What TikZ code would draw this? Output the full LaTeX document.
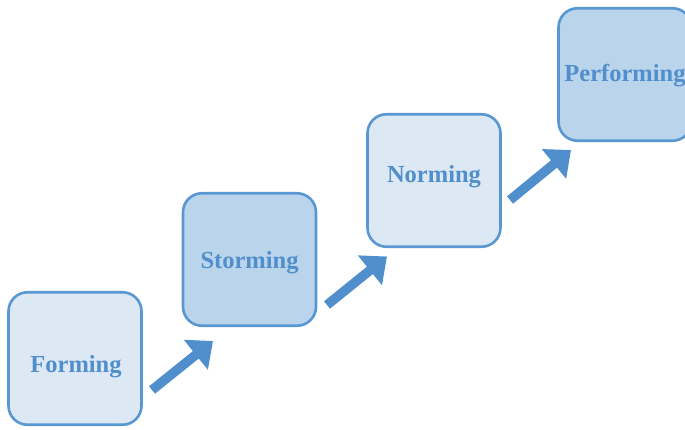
\documentclass[tikz,border=0pt]{standalone}
\usepackage{fontspec}
\setmainfont{Liberation Serif}
\usetikzlibrary{arrows.meta, calc}
\definecolor{stageline}{RGB}{88,151,210}
\definecolor{stagetext}{RGB}{80,142,204}
\definecolor{stagelight}{RGB}{221,232,245}
\definecolor{stagedark}{RGB}{185,212,235}

\begin{document}
\begin{tikzpicture}[x=1pt, y=-1pt,
  stage/.style={draw=stageline, line width=2.6pt, rounded corners=19pt,
    minimum width=133pt, minimum height=132.5pt, inner sep=0pt},
  light/.style={stage, fill=stagelight},
  dark/.style={stage, fill=stagedark},
  stagename/.style={text=stagetext, font=\bfseries\fontsize{24.5}{28}\selectfont, inner sep=0pt},
  push/.style={draw=stagetext, line width=9.5pt, -{Triangle[length=22pt, width=37pt]}}]
\useasboundingbox (0,0) rectangle (685,429);
% the four stages
\node[light] (forming) at (75,358.5) {};
\node[dark] (storming) at (249.5,259.5) {};
\node[light] (norming) at (434,180.5) {};
\node[dark] (performing) at (625,74.5) {};
\node[stagename] (formingname) at (76,366.5) {Forming};
\node[stagename] (stormingname) at (249.5,262.5) {Storming};
\node[stagename] (normingname) at (434,177) {Norming};
\node[stagename] (performingname) at (625,75.5) {Performing};
% arrows between the stages
\draw[push] ($(forming.center)+(77,31.5)$) -- ($(storming.center)+(-36.5,81.5)$);
\draw[push] ($(storming.center)+(77.5,45.5)$) -- ($(norming.center)+(-47,76)$);
\draw[push] ($(norming.center)+(76,19.5)$) -- ($(performing.center)+(-54,75.5)$);
\end{tikzpicture}
\end{document}
